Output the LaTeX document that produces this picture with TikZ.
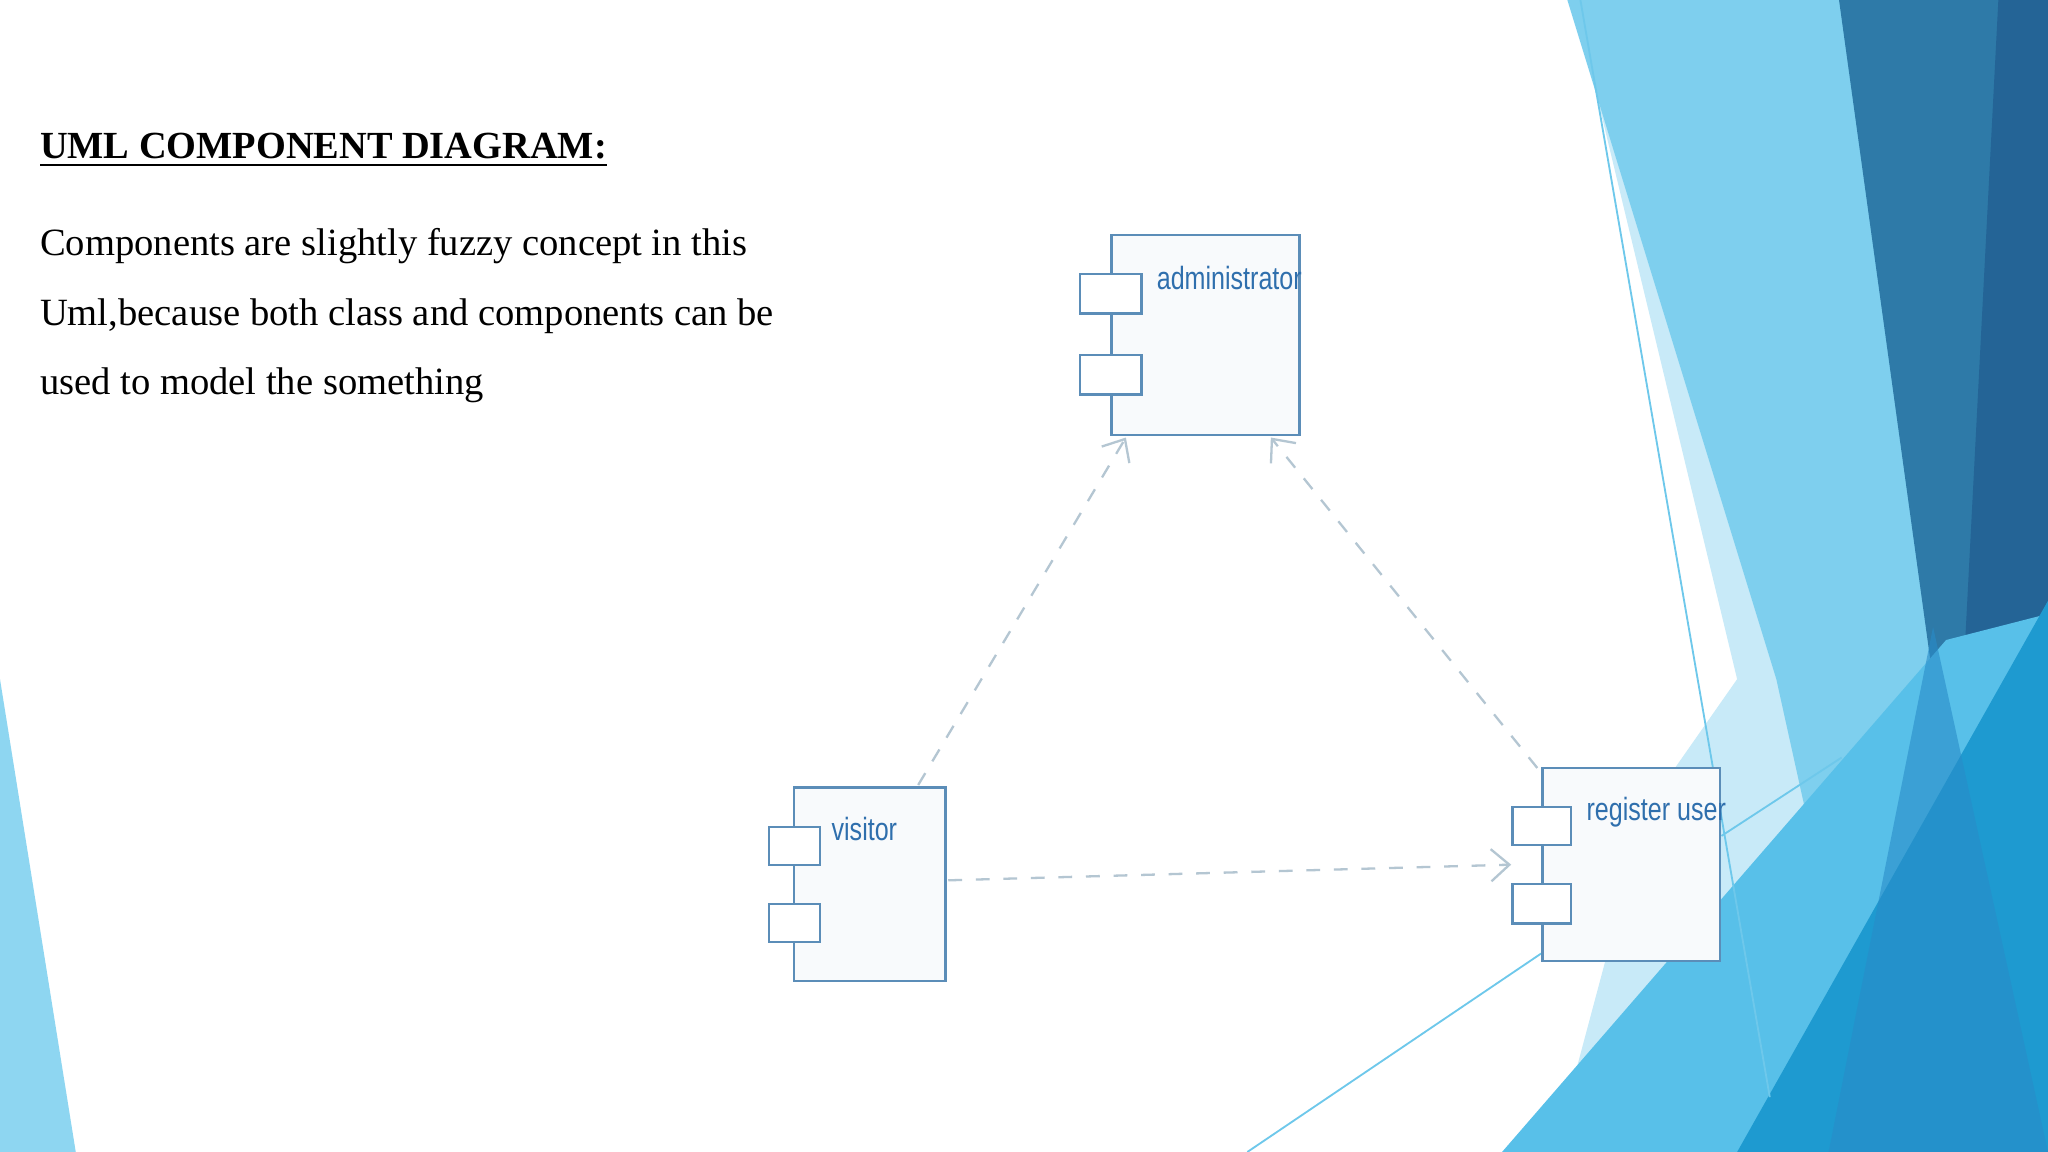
\documentclass[tikz,border=0pt]{standalone}
\usepackage{fontspec}
\setmainfont{Liberation Serif}
\newfontfamily\lsans{Liberation Sans}
\usetikzlibrary{arrows.meta}
\definecolor{bordc}{HTML}{5B8DB8}
\definecolor{labc}{HTML}{2F6FAD}
\definecolor{dashc}{HTML}{B4C6D2}
\definecolor{compfill}{HTML}{F8FAFC}
\definecolor{bgA}{HTML}{C8EAF8}
\definecolor{bgB}{HTML}{7ECFEE}
\definecolor{bgC}{HTML}{2E7AA8}
\definecolor{bgD}{HTML}{246496}
\definecolor{bgE}{HTML}{58C0E9}
\definecolor{bgF}{HTML}{1E9AD0}
\definecolor{bgG}{HTML}{288CC8}
\definecolor{bgH}{HTML}{8ED6F1}
\definecolor{lineC}{HTML}{6EC8EB}
\newcommand{\narrowlab}[1]{\scalebox{0.78}[1]{#1}}
\tikzset{
  comp/.style={draw=bordc,fill=compfill,line width=0.5pt},
  port/.style={draw=bordc,fill=white,line width=0.5pt},
  lab/.style={text=labc,font=\lsans\fontsize{7}{8}\selectfont,anchor=north west,inner sep=0},
  dep/.style={draw=dashc,dashed,line width=0.5pt,-{Straight Barb[length=4pt,width=7pt]}},
  body/.style={anchor=base west,inner sep=0,font=\fontsize{8.4}{10}\selectfont}
}
\begin{document}
\begin{tikzpicture}[x=0.01cm,y=-0.01cm]
\useasboundingbox (0,0) rectangle (1568,882);
\fill[white] (0,0) rectangle (1568,882);
% background
\fill[bgA] (1205,0)--(1568,0)--(1568,882)--(1190,882)--(1260,620)--(1330,520)--cycle;
\fill[bgB] (1200,0)--(1420,0)--(1540,882)--(1440,882)--(1360,520)--cycle;
\fill[bgC] (1408,0)--(1568,0)--(1568,882)--(1530,882)--cycle;
\fill[bgD] (1530,0)--(1568,0)--(1568,460)--(1500,580)--cycle;
\fill[bgE] (1150,882)--(1490,490)--(1568,470)--(1568,882)--cycle;
\fill[bgF] (1330,882)--(1568,460)--(1568,882)--cycle;
\fill[bgG,opacity=0.6] (1400,882)--(1480,480)--(1568,882)--cycle;
\fill[bgH] (0,520)--(58,882)--(0,882)--cycle;
\draw[lineC,line width=0.4pt] (1210,0)--(1355,840);
\draw[lineC,line width=0.4pt] (955,882)--(1180,730);
\draw[lineC,line width=0.4pt] (1318,640)--(1410,580);
% text
\node[anchor=base west,inner sep=0,font=\bfseries\fontsize{8.35}{10}\selectfont] (title) at (30,121) {\underline{UML COMPONENT DIAGRAM:}};
\node[body] (l1) at (30,196) {Components are slightly fuzzy concept in this};
\node[body] (l2) at (30,249) {Uml,because both class and components can be};
\node[body] (l3) at (30,302) {used to model the something};
% components
\draw[comp] (851,180) rectangle (995,333);
\draw[port] (827,210) rectangle (874,240);
\draw[port] (827,272) rectangle (874,302);
\node[lab] (adminl) at (885,203) {\narrowlab{administrator}};
\coordinate (admA) at (862,335);
\coordinate (admB) at (973,335);
\draw[comp] (608,603) rectangle (724,751);
\draw[port] (589,633) rectangle (628,662);
\draw[port] (589,692) rectangle (628,721);
\node[lab] (visl) at (636,625) {\narrowlab{visitor}};
\coordinate (visA) at (703,601);
\coordinate (visB) at (726,674);
\draw[comp] (1181,588) rectangle (1317,736);
\draw[port] (1158,618) rectangle (1203,647);
\draw[port] (1158,677) rectangle (1203,707);
\node[lab] (regl) at (1214,610) {\narrowlab{register user}};
\coordinate (regA) at (1177,588);
\coordinate (regB) at (1157,662);
\draw[dep] (visA) -- (admA);
\draw[dep] (regA) -- (admB);
\draw[dep] (visB) -- (regB);
\end{tikzpicture}
\end{document}
